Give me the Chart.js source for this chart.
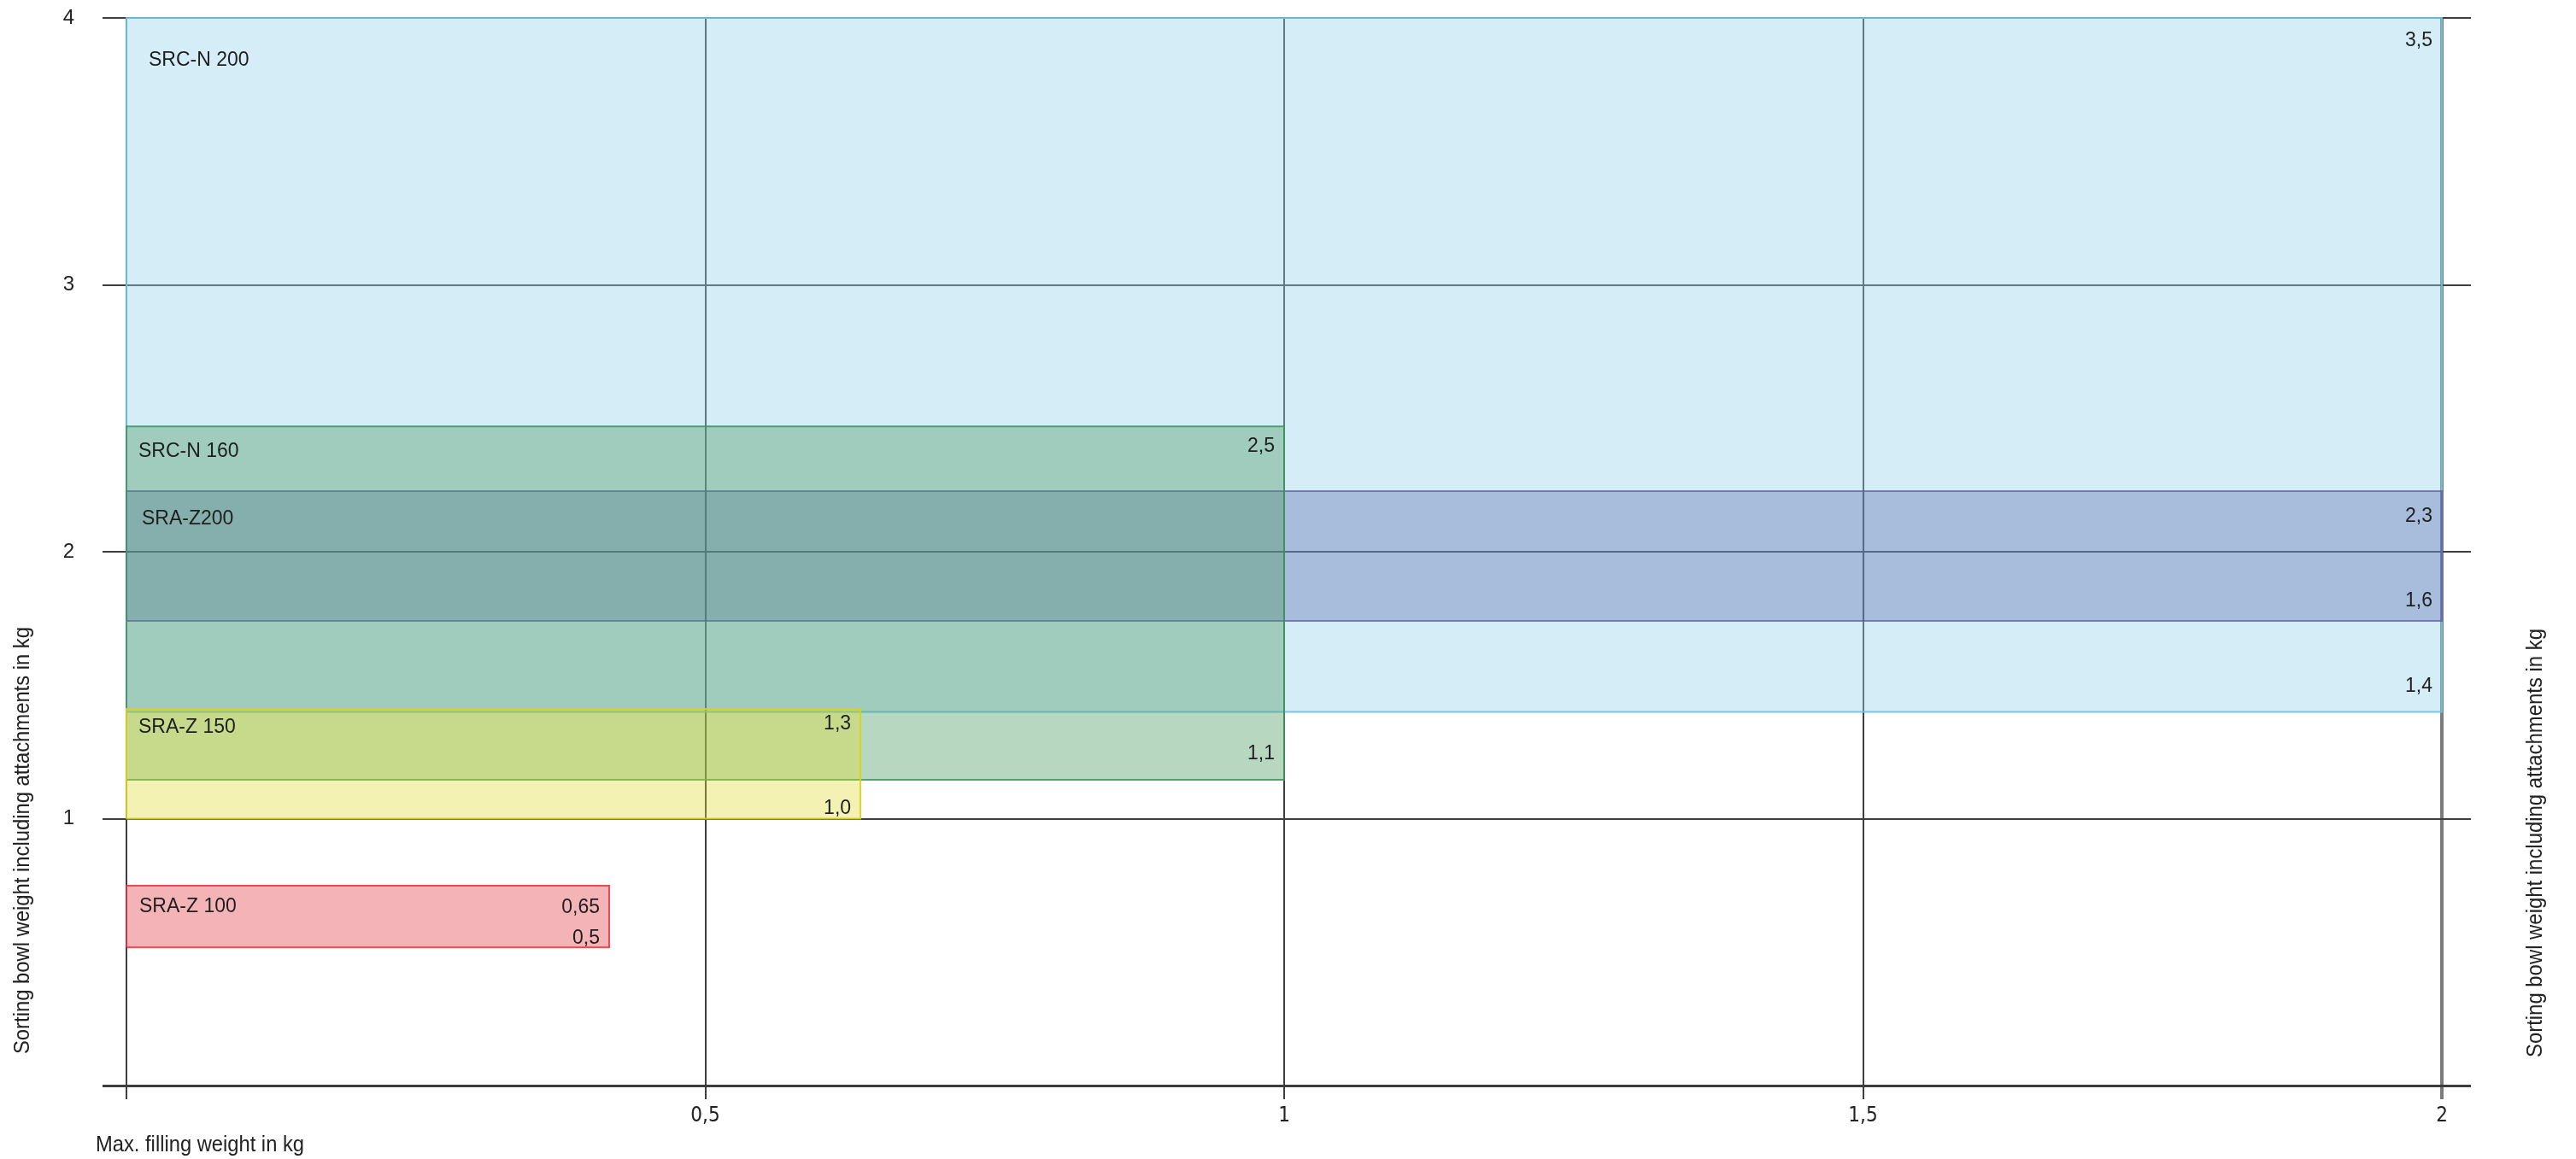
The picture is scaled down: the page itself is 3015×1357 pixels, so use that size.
<!DOCTYPE html>
<html>
<head>
<meta charset="utf-8">
<script src="https://cdn.jsdelivr.net/npm/chart.js@4.4.1/dist/chart.umd.min.js"></script>
<style>
  html, body { margin: 0; padding: 0; background: #fff; }
  canvas { display: block; }
</style>
</head>
<body>
<canvas id="myChart" width="3015" height="1357"></canvas>
<script>
// bowl models
const models = ['SRC-N 200', 'SRC-N 160', 'SRA-Z200', 'SRA-Z 150', 'SRA-Z 100'];
const maxFill = [2, 1, 2, 0.634, 0.417];
const weightLow = [1.40, 1.146, 1.741, 1.0, 0.518];
const weightHigh = [4.0, 2.47, 2.227, 1.411, 0.749];
const highText = ['3,5', '2,5', '2,3', '1,3', '0,65'];
const lowText = ['1,4', '1,1', '1,6', '1,0', '0,5'];

const xTickText = { 0: '', 0.5: '0,5', 1: '1', 1.5: '1,5', 2: '2' };
const yTickText = ['', '1', '2', '3', '4'];
const xTitle = 'Max. filling weight in kg';
const yTitle = 'Sorting bowl weight including attachments in kg';

// look
const fills = ['rgba(150,210,235,0.4)', 'rgba(78,155,100,0.4)', 'rgba(50,60,150,0.28)', 'rgba(225,220,47,0.37)', 'rgba(228,68,75,0.4)'];
const borders = ['rgba(105,195,220,0.9)', 'rgba(60,150,90,0.85)', 'rgba(95,90,180,0.75)', 'rgba(215,210,30,0.9)', 'rgba(225,50,60,0.85)'];
const layerOrder = [5, 3, 4, 2, 1]; // lower = drawn on top
const nameDx = [26, 14, 18, 14, 15];
const nameDy = [56, 36, 39, 28, 31];
const hiDy = [33, 30, 36, 24, 32];
const loDy = [24, 24, 17, 6, 4];

const sans = "'Liberation Sans', Arial, sans-serif";
const narrow = "'Liberation Sans Narrow', 'Arial Narrow', 'DejaVu Sans Condensed', sans-serif";

var datasets = models.map((name, i) => ({
    label: name,
    data: [
        { x: 0, y: weightLow[i] },
        { x: maxFill[i], y: weightLow[i] },
        { x: maxFill[i], y: weightHigh[i] },
        { x: 0, y: weightHigh[i] },
        { x: 0, y: weightLow[i] }
    ],
    showLine: true,
    fill: 'shape',
    backgroundColor: fills[i],
    borderColor: borders[i],
    borderWidth: 2,
    pointRadius: 0,
    tension: 0,
    order: layerOrder[i],
    clip: false
}));

// squeeze Arial into the narrow look of the original titles
function narrowText(c, text, x, y, width, rot) {
    c.save();
    c.translate(x, y);
    if (rot) c.rotate(rot);
    const w = c.measureText(text).width;
    c.scale(width / w, 1);
    c.fillText(text, 0, 0);
    c.restore();
}

const labelPlugin = {
    id: 'labels',
    afterDatasetsDraw(chart) {
        const c = chart.ctx;
        const xs = chart.scales.x, ys = chart.scales.y;
        c.save();
        c.fillStyle = '#1e1e1e';
        c.font = '23px ' + sans;
        c.textBaseline = 'alphabetic';
        models.forEach((name, i) => {
            const left = xs.getPixelForValue(0);
            const right = xs.getPixelForValue(maxFill[i]);
            const top = ys.getPixelForValue(weightHigh[i]);
            const bottom = ys.getPixelForValue(weightLow[i]);
            c.textAlign = 'left';
            c.fillText(name, left + nameDx[i], top + nameDy[i]);
            c.textAlign = 'right';
            c.fillText(highText[i], right - 11, top + hiDy[i]);
            c.fillText(lowText[i], right - 11, bottom - loDy[i]);
        });
        c.restore();
    },
    afterDraw(chart) {
        const c = chart.ctx;
        c.save();
        c.fillStyle = '#222';
        c.font = '25px ' + sans;
        c.textAlign = 'left';
        c.textBaseline = 'alphabetic';
        narrowText(c, xTitle, 112, 1348, 244, 0);
        c.textAlign = 'center';
        c.textBaseline = 'middle';
        narrowText(c, yTitle, 27, 984, 500, -Math.PI / 2);
        narrowText(c, yTitle, 2968, 987, 502, -Math.PI / 2);
        c.restore();
    }
};

var ctx = document.getElementById('myChart').getContext('2d');
var myChart = new Chart(ctx, {
    type: 'scatter',
    data: { datasets: datasets },
    options: {
        responsive: false,
        devicePixelRatio: 1,
        animation: false,
        layout: { padding: { top: 21, left: 0, right: 0, bottom: 0 } },
        plugins: {
            legend: { display: false },
            tooltip: { enabled: false }
        },
        scales: {
            x: {
                type: 'linear',
                min: 0,
                max: 2,
                ticks: {
                    stepSize: 0.5,
                    padding: 5,
                    color: '#222',
                    font: { size: 24, family: narrow },
                    callback: (v) => xTickText[v] ?? ''
                },
                grid: {
                    color: (c) => c.tick && c.tick.value === 2 ? 'rgba(110,110,110,0.9)' : '#3e3e3e',
                    lineWidth: (c) => c.tick && c.tick.value === 2 ? 4 : 2,
                    tickLength: 16
                },
                border: { display: true, color: '#3c3c3c', width: 3 },
                afterFit: (s) => { s.height = 86; s.paddingLeft = 0; s.paddingRight = 0; }
            },
            y: {
                type: 'linear',
                position: 'left',
                min: 0,
                max: 4,
                ticks: {
                    stepSize: 1,
                    padding: 33,
                    color: '#222',
                    font: { size: 24, family: sans },
                    callback: (v) => yTickText[v] ?? ''
                },
                grid: {
                    color: '#3e3e3e',
                    lineWidth: (c) => c.tick && c.tick.value === 0 ? 3 : 2,
                    tickLength: 28
                },
                border: { display: true, color: '#3e3e3e', width: 2 },
                afterFit: (s) => { s.width = 148; s.paddingTop = 0; s.paddingBottom = 0; }
            },
            y2: {
                type: 'linear',
                position: 'right',
                min: 0,
                max: 4,
                ticks: { stepSize: 1, display: false },
                grid: {
                    drawOnChartArea: false,
                    color: '#3e3e3e',
                    lineWidth: (c) => c.tick && c.tick.value === 0 ? 3 : 2,
                    tickLength: 34
                },
                border: { display: false },
                afterFit: (s) => { s.width = 157; s.paddingTop = 0; s.paddingBottom = 0; }
            }
        }
    },
    plugins: [labelPlugin]
});
</script>
</body>
</html>
